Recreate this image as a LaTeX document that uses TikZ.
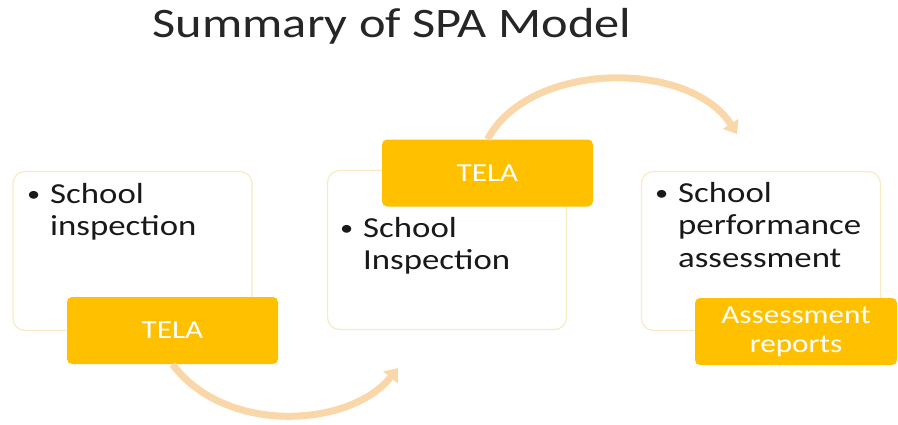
\documentclass[tikz,border=0pt]{standalone}
\usepackage{fontspec}
\setmainfont{Carlito}[FakeStretch=1.2]
\usetikzlibrary{arrows.meta, positioning, calc}
\definecolor{telagold}{HTML}{FFC000}
\definecolor{cardedge}{HTML}{F8EBC4}
\definecolor{arcpeach}{HTML}{FAD7A8}
\newcommand{\dotmark}{\makebox[23pt][l]{\raisebox{1.5pt}{\fontsize{22}{22}\selectfont\textbullet}}}

\begin{document}
\begin{tikzpicture}[
        x=1pt, y=-1pt,
        card/.style={
          draw=cardedge,
          fill=white,
          line width=1.2pt,
          rounded corners=12pt,
          minimum width=239pt,
          minimum height=159pt,
          inner sep=0pt
        },
        tag/.style={
          fill=telagold,
          rounded corners=5pt,
          minimum height=67pt,
          inner sep=0pt,
          align=center,
          text=white,
          font=\fontsize{26}{30}\selectfont
        },
        item/.style={
          anchor=base west,
          inner sep=0pt,
          text=black!90,
          font=\fontsize{29}{32.5}\selectfont
        },
        cycle/.style={-{Triangle[length=12pt, width=18pt]}, line width=7pt, draw=arcpeach}
      ]
      \useasboundingbox (0,0) rectangle (898,424);

      \node[font=\fontsize{42}{46}\selectfont, text=black!85, anchor=base] (title) at (392,37) {Summary of SPA Model};

      \node[card] (card1) at (132.5,251) {};
      \node[card] (card2) at (447,250) {};
      \node[card] (card3) at (761,251) {};

      \node[item] (text1) at (27,203) {\begin{tabular}[t]{@{}l@{}l@{}}\dotmark & School\\ & inspection\end{tabular}};
      \node[item] (text2) at (340,237) {\begin{tabular}[t]{@{}l@{}l@{}}\dotmark & School\\ & Inspection\end{tabular}};
      \node[item] (text3) at (655,202) {\begin{tabular}[t]{@{}l@{}l@{}}\dotmark & School\\ & performance\\ & assessment\end{tabular}};

      \node[tag, minimum width=211pt] (tela1) at (172.5,330.5) {TELA};
      \node[tag, minimum width=211pt] (tela2) at (487.5,173) {TELA};
      \node[tag, minimum width=202pt] (reports) at (796,331.5) {Assessment\\[-1pt]reports};

      \coordinate (in2) at (398,368);
      \coordinate (in3) at (737,134);

      \draw[cycle] (tela1.south) .. controls (225,435) and (350,428) .. (in2);
      \draw[cycle] (tela2.north) .. controls (530,60) and (690,60) .. (in3);
    \end{tikzpicture}
\end{document}
